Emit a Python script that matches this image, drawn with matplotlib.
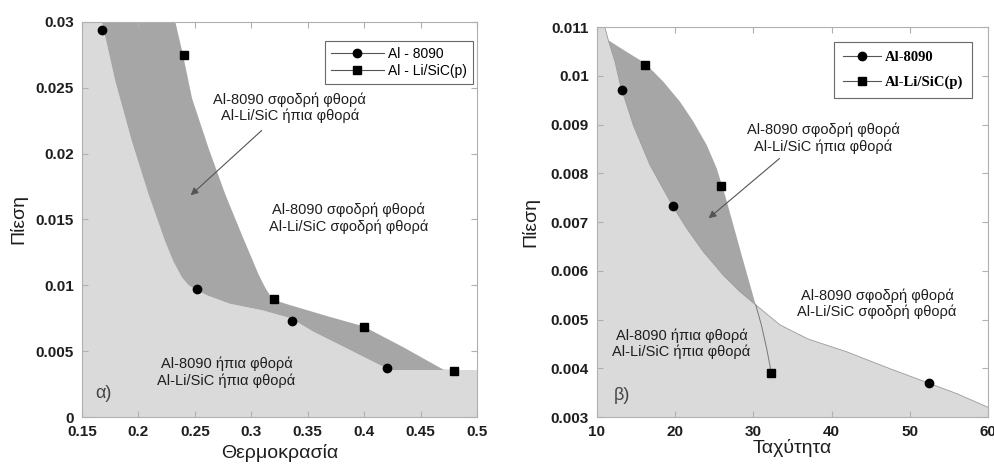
import matplotlib.pyplot as plt
from matplotlib.lines import Line2D

plt.rcParams['font.family'] = ['Liberation Sans', 'DejaVu Sans']

# ---- panel a) data ----
temp_8090 = [0.168, 0.252, 0.336, 0.420]
pres_8090 = [0.0294, 0.0097, 0.0073, 0.0037]
temp_lisic = [0.240, 0.320, 0.400, 0.480]
pres_lisic = [0.0275, 0.0090, 0.0068, 0.0035]

# region boundaries
a_low_x = [0.1677, 0.1795, 0.1943, 0.209, 0.2238, 0.231, 0.2386, 0.2445, 0.252, 0.262, 0.281, 0.31, 0.335,
           0.355, 0.3845, 0.408, 0.42]
a_low_y = [0.030, 0.0255, 0.0209, 0.0169, 0.0133, 0.0118, 0.0106, 0.0100, 0.0096, 0.0092, 0.0086, 0.0081,
           0.0075, 0.00648, 0.00522, 0.0042, 0.0037]
a_up_x = [0.2327, 0.2395, 0.2475, 0.2622, 0.277, 0.2918, 0.3066, 0.3125, 0.3184, 0.325, 0.3343, 0.3697,
          0.399, 0.4347, 0.4702, 0.48]
a_up_y = [0.030, 0.0275, 0.0242, 0.0204, 0.0169, 0.0138, 0.0108, 0.0098, 0.0090, 0.00875, 0.0085, 0.0076,
          0.0069, 0.0053, 0.0036, 0.00357]
a_floor = 0.00357

# ---- panel b) data ----
speed_8090 = [13.2, 19.7, 52.5]
pb_8090 = [0.00971, 0.00733, 0.00369]
speed_lisic = [16.2, 25.9, 32.3]
pb_lisic = [0.01023, 0.00774, 0.0039]

b_low_x = [10.0, 11.0, 11.45, 12.3, 13.0, 14.64, 16.78, 18.91, 19.76, 21.47, 23.6, 26.15, 28.29, 30.3,
           33.4, 37.0, 41.9, 47.0, 52.5, 56.0, 60.0]
b_low_y = [0.0115, 0.011, 0.01073, 0.01029, 0.0098, 0.00899, 0.00817, 0.00755, 0.00731, 0.00687, 0.00639,
           0.00591, 0.00557, 0.0053, 0.00489, 0.0046, 0.00434, 0.00402, 0.00369, 0.00348, 0.0032]
b_up_x = [11.45, 13.8, 16.14, 18.48, 20.61, 22.32, 24.03, 25.31, 26.37, 27.43, 28.5, 29.57, 30.3]
b_up_y = [0.01073, 0.01049, 0.01026, 0.00988, 0.00947, 0.00906, 0.00858, 0.0081, 0.00755, 0.00694,
          0.00632, 0.00571, 0.0053]
b_tail_x = [30.3, 31.0, 31.7, 32.3]
b_tail_y = [0.0053, 0.0049, 0.0044, 0.0039]

light = '#dadada'
dark = '#a6a6a6'
frame = '#b0b0b0'
txt = '#1e1e1e'

fig = plt.figure(figsize=(9.95, 4.67), dpi=100)
ax1 = fig.add_axes([0.0824, 0.107, 0.397, 0.846])
ax2 = fig.add_axes([0.600, 0.107, 0.393, 0.835])

# panel a shading
lx = [0.15] + a_low_x + [a_low_x[-1], 0.5, 0.5, 0.15]
ly = [0.03] + a_low_y + [a_floor, a_floor, 0.0, 0.0]
ax1.fill(lx, ly, color=light, lw=0)
bx = a_up_x + [a_low_x[-1]] + a_low_x[::-1]
by = a_up_y + [a_floor] + a_low_y[::-1]
ax1.fill(bx, by, color=dark, lw=0)

ax1.plot(temp_8090, pres_8090, 'o', color='black', ms=6)
ax1.plot(temp_lisic, pres_lisic, 's', color='black', ms=6)

ax1.set_xlim(0.15, 0.5)
ax1.set_ylim(0, 0.03)
ax1.set_xticks([0.15, 0.2, 0.25, 0.3, 0.35, 0.4, 0.45, 0.5])
ax1.set_xticklabels(['0.15', '0.2', '0.25', '0.3', '0.35', '0.4', '0.45', '0.5'])
ax1.set_yticks([0, 0.005, 0.01, 0.015, 0.02, 0.025, 0.03])
ax1.set_yticklabels(['0', '0.005', '0.01', '0.015', '0.02', '0.025', '0.03'])
ax1.set_xlabel('Θερμοκρασία', fontsize=14, color=txt, labelpad=3)
ax1.set_ylabel('Πίεση', fontsize=14, color=txt, labelpad=6)

fs = 10.5
ax1.annotate('', xy=(0.2445, 0.0167), xytext=(0.311, 0.0219),
             arrowprops=dict(arrowstyle='-|>', color='#555555', lw=0.8, mutation_scale=11))
ax1.text(0.334, 0.0235, 'Al-8090 σφοδρή φθορά\nAl-Li/SiC ήπια φθορά', ha='center', va='center',
         fontsize=fs, color=txt, linespacing=1.15)
ax1.text(0.386, 0.0151, 'Al-8090 σφοδρή φθορά\nAl-Li/SiC σφοδρή φθορά', ha='center', va='center',
         fontsize=fs, color=txt, linespacing=1.15)
ax1.text(0.278, 0.0034, 'Al-8090 ήπια φθορά\nAl-Li/SiC ήπια φθορά', ha='center', va='center',
         fontsize=fs, color=txt, linespacing=1.15)
ax1.text(0.169, 0.0018, 'α)', ha='center', va='center', fontsize=13, color='#444444')

h1 = [Line2D([], [], color='#555555', lw=0.8, marker='o', mfc='black', mec='black', ms=6),
      Line2D([], [], color='#555555', lw=0.8, marker='s', mfc='black', mec='black', ms=6)]
leg1 = ax1.legend(h1, ['Al - 8090', 'Al - Li/SiC(p)'], loc='upper right', bbox_to_anchor=(0.99, 0.952),
                  borderaxespad=0, fontsize=10, frameon=True, fancybox=False, borderpad=0.45,
                  labelspacing=0.2, handlelength=3.8, handletextpad=0.3)
leg1.get_frame().set_edgecolor('#444444')
leg1.get_frame().set_linewidth(0.8)

# panel b shading
lx = b_low_x + [60, 10]
ly = b_low_y + [0.003, 0.003]
ax2.fill(lx, ly, color=light, lw=0)
ax2.plot(b_low_x, b_low_y, color='#9a9a9a', lw=0.6)
i0 = b_low_x.index(11.45)
i1 = b_low_x.index(30.3)
bx = b_up_x + b_low_x[i0:i1 + 1][::-1]
by = b_up_y + b_low_y[i0:i1 + 1][::-1]
ax2.fill(bx, by, color=dark, lw=0)
ax2.plot(b_tail_x, b_tail_y, color='#777777', lw=0.7)

ax2.plot(speed_8090, pb_8090, 'o', color='black', ms=6)
ax2.plot(speed_lisic, pb_lisic, 's', color='black', ms=6)

ax2.set_xlim(10, 60)
ax2.set_ylim(0.003, 0.011)
ax2.set_xticks([10, 20, 30, 40, 50, 60])
ax2.set_yticks([0.003, 0.004, 0.005, 0.006, 0.007, 0.008, 0.009, 0.01, 0.011])
ax2.set_yticklabels(['0.003', '0.004', '0.005', '0.006', '0.007', '0.008', '0.009', '0.01', '0.011'])
ax2.set_xlabel('Ταχύτητα', fontsize=14, color=txt, labelpad=0)
ax2.set_ylabel('Πίεση', fontsize=14, color=txt, labelpad=8)

ax2.annotate('', xy=(24.0, 0.00704), xytext=(33.6, 0.00834),
             arrowprops=dict(arrowstyle='-|>', color='#555555', lw=0.8, mutation_scale=11))
ax2.text(38.9, 0.00872, 'Al-8090 σφοδρή φθορά\nAl-Li/SiC ήπια φθορά', ha='center', va='center',
         fontsize=fs, color=txt, linespacing=1.15)
ax2.text(45.8, 0.00533, 'Al-8090 σφοδρή φθορά\nAl-Li/SiC σφοδρή φθορά', ha='center', va='center',
         fontsize=fs, color=txt, linespacing=1.15)
ax2.text(20.8, 0.00451, 'Al-8090 ήπια φθορά\nAl-Li/SiC ήπια φθορά', ha='center', va='center',
         fontsize=fs, color=txt, linespacing=1.15)
ax2.text(13.2, 0.00345, 'β)', ha='center', va='center', fontsize=13, color='#444444')

h2 = [Line2D([], [], color='#555555', lw=0.8, marker='o', mfc='black', mec='black', ms=6),
      Line2D([], [], color='#555555', lw=0.8, marker='s', mfc='black', mec='black', ms=6)]
leg2 = ax2.legend(h2, ['Al-8090', 'Al-Li/SiC(p)'], loc='upper right', bbox_to_anchor=(0.959, 0.962),
                  borderaxespad=0, prop={'family': 'Liberation Serif', 'weight': 'bold', 'size': 10.5},
                  frameon=True, fancybox=False, borderpad=0.6, labelspacing=0.8,
                  handlelength=2.6, handletextpad=0.3)
leg2.get_frame().set_edgecolor('#444444')
leg2.get_frame().set_linewidth(0.8)

for ax in (ax1, ax2):
    ax.set_facecolor('white')
    for s in ax.spines.values():
        s.set_color(frame)
        s.set_linewidth(0.8)
    ax.tick_params(direction='in', top=True, right=True, length=4, color=frame,
                   labelsize=11, labelcolor=txt, pad=6)
    for lab in ax.get_xticklabels() + ax.get_yticklabels():
        lab.set_fontweight('bold')

fig.savefig('out.png', dpi=100)
